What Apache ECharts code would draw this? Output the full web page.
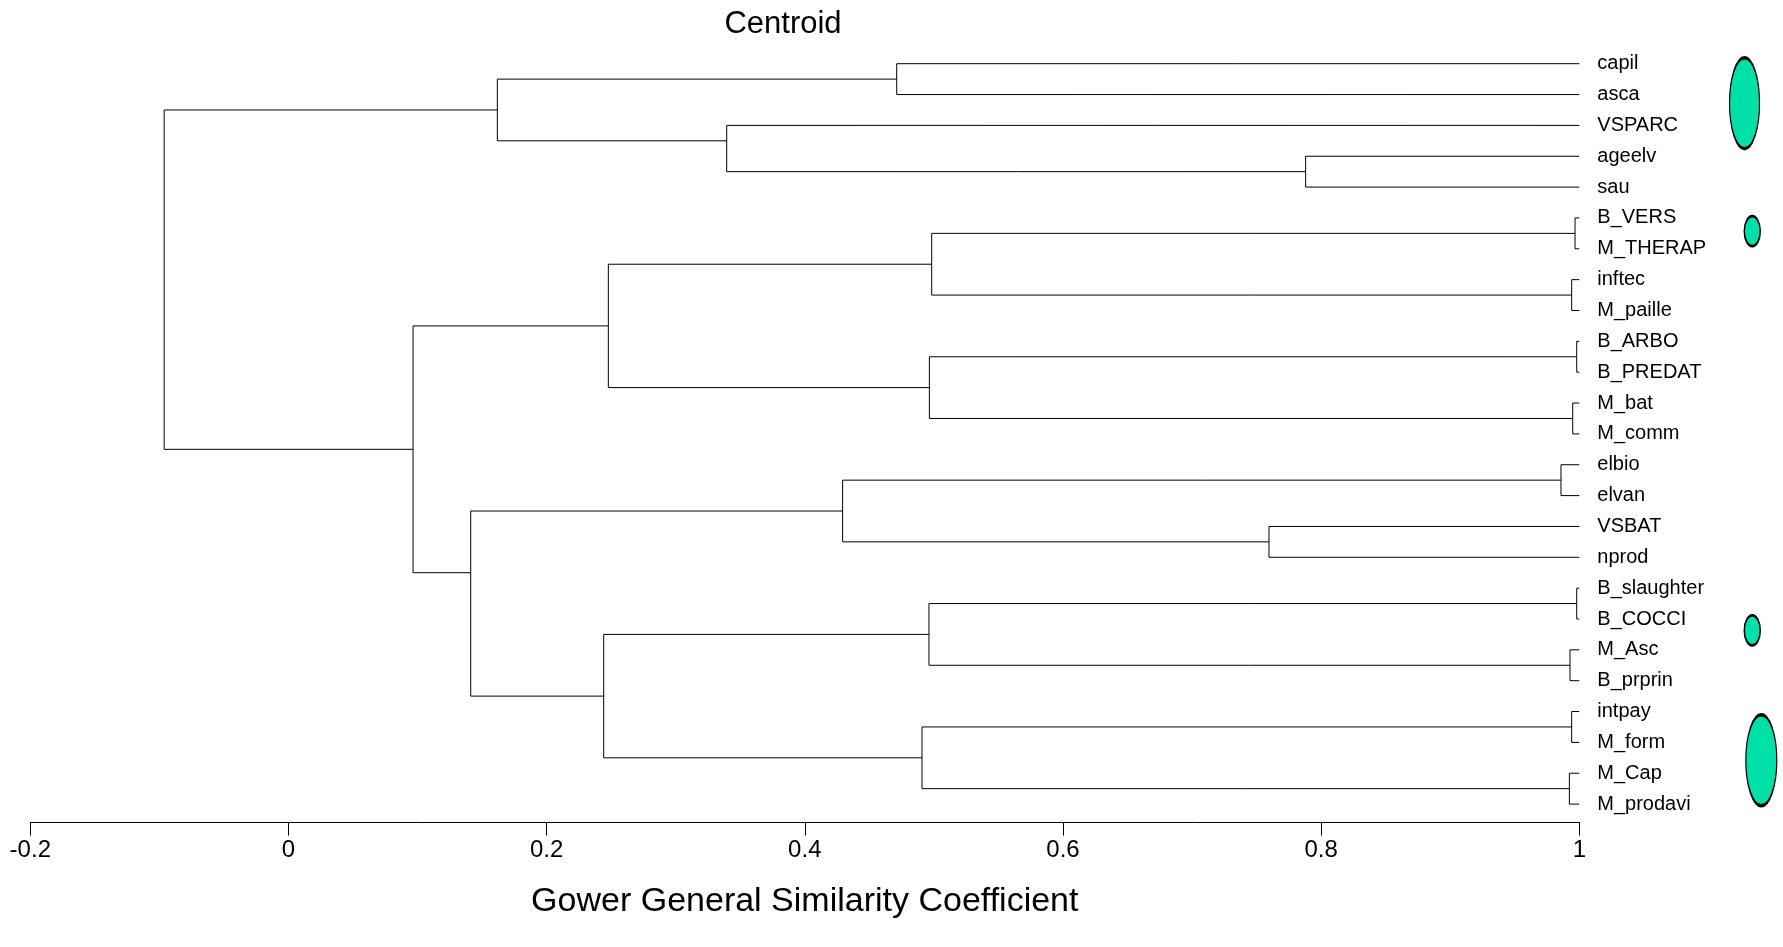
<!DOCTYPE html>
<html>
<head>
<meta charset="utf-8">
<script src="https://cdn.jsdelivr.net/npm/echarts@6/dist/echarts.min.js"></script>
<style>
html,body{margin:0;padding:0;background:#fff;}
#chart{width:1783px;height:947px;}
</style>
</head>
<body>
<div id="chart"></div>
<script>
// Leaves (top to bottom)
const leaves = ['capil','asca','VSPARC','ageelv','sau','B_VERS','M_THERAP','inftec','M_paille','B_ARBO','B_PREDAT','M_bat','M_comm','elbio','elvan','VSBAT','nprod','B_slaughter','B_COCCI','M_Asc','B_prprin','intpay','M_form','M_Cap','M_prodavi'];

// Merge table (R hclust style: negative = leaf number, positive = earlier merge step)
const mergeA = [-1,-4,-3, 1,-6,-8, 5,-10,-12, 8, 7,-14,-16,12,-18,-20,15,-22,-24,18,17,14,11, 4];
const mergeB = [-2,-5, 2, 3,-7,-9, 6,-11,-13, 9,10,-15,-17,13,-19,-21,16,-23,-25,19,20,21,22,23];
// Similarity level of each merge
const mergeHeight = [0.4712,0.788,0.3395,0.1618,0.9967,0.9941,0.4983,0.998,0.9949,0.4965,0.2478,0.9858,0.7596,0.4293,0.998,0.9928,0.4962,0.9941,0.9923,0.4908,0.2442,0.1412,0.0965,-0.0963];
// Row position of each merge node (in leaf rows)
const mergeRow = [0.5,3.5,2.5,1.5,5.5,7.5,6.5,9.5,11.5,10.5,8.5,13.5,15.5,14.5,17.5,19.5,18.5,21.5,23.5,22.5,20.5,16.5,12.5,4.5];

// Cluster markers (ellipses): row centre and similarity position
const markerRow = [1.28, 5.43, 18.37, 22.58];
const markerX = [1.128, 1.134, 1.134, 1.141];

const xTicks = [-0.2, 0, 0.2, 0.4, 0.6, 0.8, 1];

function nodeInfo(ref) {
  if (ref < 0) return { h: 1, y: -ref - 1 };
  return { h: mergeHeight[ref - 1], y: mergeRow[ref - 1] };
}

const segData = mergeA.map((a, i) => {
  const A = nodeInfo(a), B = nodeInfo(mergeB[i]);
  return [mergeHeight[i], mergeRow[i], A.h, A.y, B.h, B.y];
});

const markerSizes = [[30, 91], [16, 30], [16, 30], [31, 91]];
const markerData = markerRow.map((r, i) => ({ value: [markerX[i], r], symbolSize: markerSizes[i] }));

const FONT = "'Liberation Sans', Arial, sans-serif";

const chart = echarts.init(document.getElementById('chart'));
chart.setOption({
  animation: false,
  backgroundColor: '#fff',
  title: {
    text: 'Centroid',
    left: 778,
    textAlign: 'center',
    top: 4,
    textStyle: { fontFamily: FONT, fontSize: 31, fontWeight: 'normal', color: '#000' }
  },
  grid: { left: 30.3, right: 203.7, top: 32.85, bottom: 124.4 },
  xAxis: {
    type: 'value',
    min: -0.2, max: 1, interval: 0.2,
    name: 'Gower General Similarity Coefficient',
    nameLocation: 'middle',
    nameGap: 62,
    nameTextStyle: { fontFamily: FONT, fontSize: 34, color: '#000' },
    axisLine: { show: true, onZero: false, lineStyle: { color: '#000', width: 1 } },
    axisTick: { show: true, length: 13, lineStyle: { color: '#000', width: 1 } },
    axisLabel: {
      margin: 16, fontFamily: FONT, fontSize: 24, color: '#000',
      formatter: v => { const t = xTicks.find(k => Math.abs(k - v) < 1e-9); return t === undefined ? '' : String(t); }
    },
    splitLine: { show: false }
  },
  yAxis: {
    type: 'value',
    inverse: true,
    min: -1, max: 24.6, interval: 1,
    position: 'right',
    axisLine: { show: false },
    axisTick: { show: false },
    splitLine: { show: false },
    axisLabel: {
      margin: 18, fontFamily: FONT, fontSize: 20, color: '#000', align: 'left',
      formatter: v => (Number.isInteger(v) && leaves[v] !== undefined) ? leaves[v] : ''
    }
  },
  series: [
    {
      type: 'custom',
      clip: false,
      data: segData,
      encode: { x: 0, y: 1 },
      renderItem: function (params, api) {
        const h = api.value(0), y = api.value(1);
        const ah = api.value(2), ay = api.value(3), bh = api.value(4), by = api.value(5);
        const pts = [api.coord([ah, ay]), api.coord([h, ay]), api.coord([h, by]), api.coord([bh, by])];
        return {
          type: 'polyline',
          shape: { points: pts },
          style: { stroke: '#000', lineWidth: 1, fill: null }
        };
      }
    },
    {
      type: 'scatter',
      clip: false,
      symbol: 'circle',
      data: markerData,
      itemStyle: { color: '#00E0A8', opacity: 1, borderColor: '#000', borderWidth: 2 },
      emphasis: { disabled: true }
    }
  ]
});
</script>
</body>
</html>
